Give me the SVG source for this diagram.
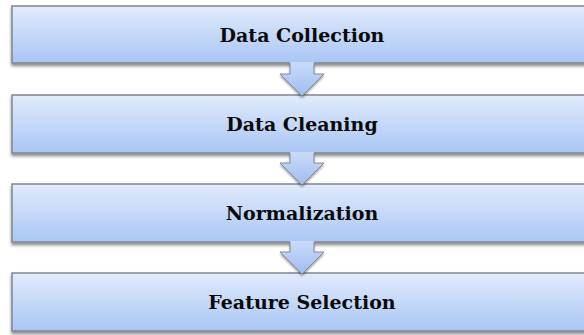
<svg xmlns="http://www.w3.org/2000/svg" width="584" height="335" viewBox="0 0 584 335">
<defs>
<linearGradient id="gBox" x1="0" y1="0" x2="0" y2="1">
<stop offset="0" stop-color="#e1ebfc"/>
<stop offset="1" stop-color="#a9c6f4"/>
</linearGradient>
<linearGradient id="gArrow" x1="0" y1="0" x2="0" y2="1">
<stop offset="0" stop-color="#c9dbf9"/>
<stop offset="1" stop-color="#9fbdf1"/>
</linearGradient>
<filter id="sh" x="-5%" y="-20%" width="110%" height="150%">
<feDropShadow dx="0" dy="2.5" stdDeviation="1.6" flood-color="#000" flood-opacity="0.45"/>
</filter>
<filter id="sha" x="-30%" y="-10%" width="160%" height="140%">
<feDropShadow dx="0" dy="2" stdDeviation="1.2" flood-color="#000" flood-opacity="0.35"/>
</filter>
</defs>
<style>
.box{fill:url(#gBox);stroke:#80868f;stroke-width:1.5;filter:url(#sh)}
.arrf{fill:url(#gArrow);stroke:none}
.arrs{fill:none;stroke:#858b94;stroke-width:1;stroke-linejoin:miter}
.arr{filter:url(#sha)}
.lbl{font-family:"DejaVu Serif","Liberation Serif",serif;font-weight:bold;font-size:19px;fill:#0a0a0a;text-anchor:middle}
</style>
<rect width="584" height="335" fill="#ffffff"/>
<g id="n1"><rect class="box" x="12" y="6" width="580" height="57"/><text class="lbl" x="302" y="42">Data Collection</text></g>
<g id="n2"><rect class="box" x="12" y="95" width="580" height="58"/><text class="lbl" x="302" y="131">Data Cleaning</text></g>
<g id="n3"><rect class="box" x="12" y="184" width="580" height="58"/><text class="lbl" x="302" y="220">Normalization</text></g>
<g id="n4"><rect class="box" x="12" y="273" width="580" height="58"/><text class="lbl" x="302" y="309">Feature Selection</text></g>
<g id="connectors">
<g class="arr"><path class="arrf" d="M290,62 V74 H280 L302,96 L324,74 H314 V62 Z"/><path class="arrs" d="M290,63 V74 H280 L302,96 L324,74 H314 V63"/></g>
<g class="arr"><path class="arrf" d="M290,152 V163 H280 L302,185 L324,163 H314 V152 Z"/><path class="arrs" d="M290,153 V163 H280 L302,185 L324,163 H314 V153"/></g>
<g class="arr"><path class="arrf" d="M290,241 V252 H280 L302,274 L324,252 H314 V241 Z"/><path class="arrs" d="M290,242 V252 H280 L302,274 L324,252 H314 V242"/></g>
</g>
</svg>
